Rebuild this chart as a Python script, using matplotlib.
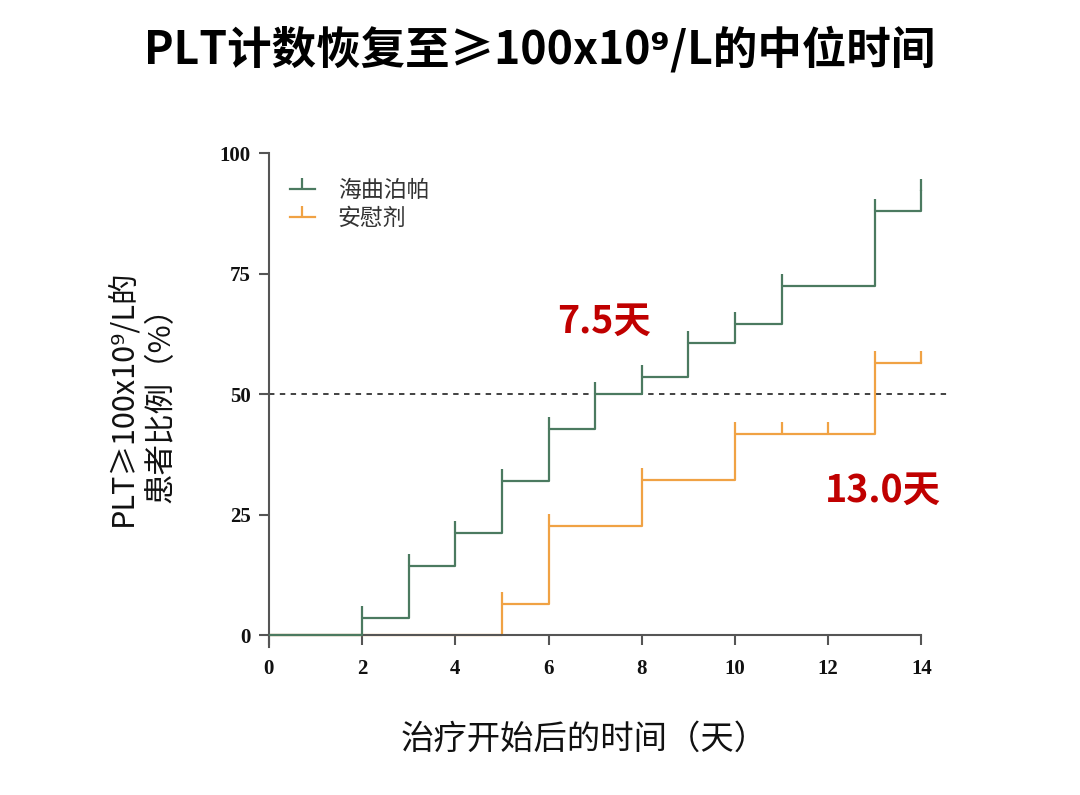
import numpy as np
import matplotlib
matplotlib.use("Agg")
import matplotlib.pyplot as plt
from matplotlib.lines import Line2D

plt.rcParams['font.family'] = ['Noto Sans CJK SC', 'DejaVu Sans']

# ---- data (percent of patients) ----
green_x = [0, 2, 3, 4, 5, 6, 7, 8, 9, 10, 11, 13, 14]
green_y = [0, 3.5, 14.3, 21.3, 32.0, 42.8, 50.0, 53.5, 60.7, 64.6, 72.5, 88.1, 92.2]
orange_x = [0, 5, 6, 8, 10, 13, 14]
orange_y = [0, 6.5, 22.6, 32.3, 41.8, 56.5, 56.5]
# censor ticks (x positions)
green_ticks = [2, 3, 4, 5, 6, 7, 8, 9, 10, 11, 13, 14]
orange_ticks = [5, 6, 8, 10, 11, 12, 13, 14]

labels = ['海曲泊帕', '安慰剂']
xticks = [0, 2, 4, 6, 8, 10, 12, 14]
yticks = [0, 25, 50, 75, 100]

c_green = '#4b7a60'
c_orange = '#f0a244'
c_red = '#c00000'


def level_at(xs, ys, t):
    # value of the step curve at time t
    v = ys[0]
    for a, b in zip(xs, ys):
        if a <= t:
            v = b
    return v


fig = plt.figure(figsize=(10.8, 7.95), dpi=100)
ax = fig.add_axes([0.249, 0.186, 0.630, 0.624])

ax.axhline(50, color='#333333', lw=1.3, ls=(0, (3, 3)), zorder=1)

ax.step(green_x, green_y, where='post', color=c_green, lw=1.6, zorder=3)
ax.step(orange_x, orange_y, where='post', color=c_orange, lw=1.6, zorder=2)
ax.plot(green_ticks, [level_at(green_x, green_y, t) for t in green_ticks],
        ls='none', marker=2, ms=9, mew=1.6, color=c_green, zorder=3)
ax.plot(orange_ticks, [level_at(orange_x, orange_y, t) for t in orange_ticks],
        ls='none', marker=2, ms=9, mew=1.6, color=c_orange, zorder=2)

ax.set_xlim(0, 14.6)
ax.set_ylim(-2.5, 100.5)
for s in ['top', 'right']:
    ax.spines[s].set_visible(False)
ax.spines['bottom'].set_position(('data', 0))
ax.spines['bottom'].set_bounds(0, 14)
ax.spines['left'].set_bounds(-2.5, 100)
for s in ['bottom', 'left']:
    ax.spines[s].set_color('#555555')
    ax.spines[s].set_linewidth(1.5)

ax.set_xticks(xticks)
ax.set_yticks(yticks)
ax.tick_params(axis='both', direction='out', length=7, width=1.5, color='#555555')
ax.tick_params(axis='x', pad=10)
ax.tick_params(axis='y', pad=6)
for lab in ax.get_xticklabels() + ax.get_yticklabels():
    lab.set_fontfamily('Liberation Serif')
    lab.set_fontweight('bold')
    lab.set_fontsize(15)
    lab.set_color('#111111')

handles = [Line2D([0], [0], color=c_green, lw=1.6, marker=2, ms=8, mew=1.6),
           Line2D([0], [0], color=c_orange, lw=1.6, marker=2, ms=8, mew=1.6)]
leg = ax.legend(handles, labels, loc='upper left', bbox_to_anchor=(0.0, 0.985),
                frameon=False, fontsize=16.5, handlelength=1.1, handletextpad=1.0,
                labelspacing=0.2)
for t in leg.get_texts():
    t.set_color('#333333')

ax.text(7.19, 65.1, '7.5天', color=c_red, fontsize=27, fontweight='bold',
        ha='center', va='center')
ax.text(13.18, 30.0, '13.0天', color=c_red, fontsize=27, fontweight='bold',
        ha='center', va='center')

fig.text(0.5, 0.937, 'PLT计数恢复至≥100x10⁹/L的中位时间', ha='center', va='center',
         fontsize=32, fontweight='bold', color='#000000')
fig.text(0.541, 0.070, '治疗开始后的时间（天）', ha='center', va='center',
         fontsize=24, color='#111111')
fig.text(0.131, 0.50, 'PLT≥100x10⁹/L的\n患者比例（%）', ha='center', va='center',
         rotation=90, fontsize=22, color='#111111', linespacing=1.3,
         multialignment='center')

fig.savefig('out.png', dpi=100)
